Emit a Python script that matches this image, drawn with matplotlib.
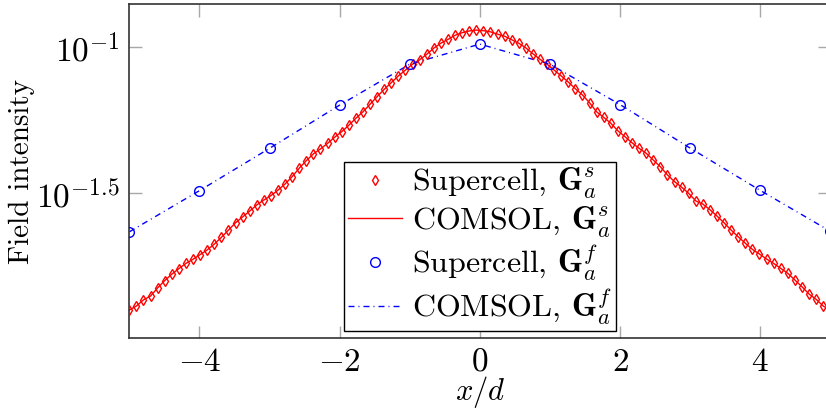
import numpy as np
import matplotlib
matplotlib.use("Agg")
import matplotlib.pyplot as plt
from matplotlib.lines import Line2D

plt.rcParams['font.family'] = 'serif'
plt.rcParams['font.serif'] = ['cmr10', 'DejaVu Serif']
plt.rcParams['mathtext.fontset'] = 'cm'
plt.rcParams['axes.unicode_minus'] = False
plt.rcParams['axes.formatter.use_mathtext'] = True

# ---- data ----
x_supercell_s = np.linspace(-5, 5, 100)
supercell_s_log10 = [
    -1.900, -1.886, -1.865, -1.852, -1.824, -1.799, -1.777, -1.758, -1.740, -1.726,
    -1.710, -1.694, -1.674, -1.651, -1.626, -1.601, -1.581, -1.561, -1.540, -1.523,
    -1.508, -1.489, -1.468, -1.443, -1.414, -1.388, -1.365, -1.348, -1.329, -1.308,
    -1.289, -1.267, -1.243, -1.221, -1.195, -1.169, -1.144, -1.121, -1.098, -1.078,
    -1.058, -1.043, -1.024, -1.003, -0.986, -0.973, -0.959, -0.950, -0.944, -0.941,
    -0.943, -0.947, -0.955, -0.962, -0.974, -0.986, -1.002, -1.022, -1.041, -1.058,
    -1.078, -1.098, -1.119, -1.142, -1.163, -1.190, -1.221, -1.240, -1.260, -1.286,
    -1.306, -1.327, -1.346, -1.363, -1.386, -1.409, -1.437, -1.460, -1.479, -1.500,
    -1.526, -1.537, -1.556, -1.578, -1.601, -1.626, -1.649, -1.671, -1.692, -1.708,
    -1.725, -1.740, -1.757, -1.774, -1.797, -1.820, -1.845, -1.863, -1.886, -1.900,
]
comsol_s_log10 = supercell_s_log10

x_f = [-5, -4, -3, -2, -1, 0, 1, 2, 3, 4, 5]
supercell_f_log10 = [-1.632, -1.491, -1.346, -1.198, -1.058, -0.989,
                     -1.058, -1.196, -1.345, -1.490, -1.630]
comsol_f_log10 = supercell_f_log10

x_ticks = [-4, -2, 0, 2, 4]
x_tick_labels = [r'$-4$', r'$-2$', r'$0$', r'$2$', r'$4$']
y_tick_exps = [-1.5, -1.0]
y_tick_labels = [r'$10^{-1.5}$', r'$10^{-1}$']

labels = [r'Supercell, $\mathbf{G}_a^s$', r'COMSOL, $\mathbf{G}_a^s$',
          r'Supercell, $\mathbf{G}_a^f$', r'COMSOL, $\mathbf{G}_a^f$']

# ---- figure ----
W, H = 826, 412
fig = plt.figure(figsize=(W / 100, H / 100), dpi=100)
ax = fig.add_axes([129.3 / W, (H - 338) / H, (830.3 - 129.3) / W, (338 - 4) / H])

red = '#ff0000'
blue = '#0000ff'

ys = 10 ** np.array(supercell_s_log10)
yc = 10 ** np.array(comsol_s_log10)
yf = 10 ** np.array(supercell_f_log10)
yfc = 10 ** np.array(comsol_f_log10)

ax.plot(x_supercell_s, yc, color=red, lw=1.0, zorder=2)
ax.plot(x_supercell_s, ys, ls='none', marker='d', ms=5.5, mfc='none', mec=red,
        mew=1.0, zorder=3)
ax.plot(x_f, yfc, color=blue, lw=1.0, dashes=(4.3, 2.9, 0.7, 2.9), zorder=2)
ax.plot(x_f, yf, ls='none', marker='o', ms=7, mfc='none', mec=blue, mew=1.0,
        zorder=3)

ax.set_yscale('log')
ax.set_xlim(-5, 5)
ax.set_ylim(10 ** -1.9955, 10 ** -0.8517)
ax.set_xticks(x_ticks)
ax.set_xticklabels(x_tick_labels)
ax.set_yticks([10 ** e for e in y_tick_exps])
ax.set_yticklabels(y_tick_labels)
ax.yaxis.set_minor_locator(matplotlib.ticker.NullLocator())

ax.tick_params(axis='both', which='major', direction='in', length=9, width=1.0,
               color='#a8a8a8', labelsize=24, top=True, right=True, pad=7)
for s in ax.spines.values():
    s.set_color('#333333')
    s.set_linewidth(1.2)

ax.set_xlabel(r'$x/d$', fontsize=22, labelpad=-2)
ax.set_ylabel('Field intensity', fontsize=21, labelpad=1)

handles = [
    Line2D([], [], ls='none', marker='d', ms=5.5, mfc='none', mec=red, mew=1.0),
    Line2D([], [], color=red, lw=1.0),
    Line2D([], [], ls='none', marker='o', ms=7, mfc='none', mec=blue, mew=1.0),
    Line2D([], [], color=blue, lw=1.0, dashes=(4.3, 2.9, 0.7, 2.9)),
]
leg = ax.legend(handles, labels, loc='lower center', bbox_to_anchor=(0.5, 0.0),
                fontsize=23, frameon=True, fancybox=False, framealpha=1,
                edgecolor='black', handlelength=1.7, handletextpad=0.3,
                labelspacing=0.1, borderpad=0.12, borderaxespad=0.22)
leg.get_frame().set_linewidth(1.0)

fig.savefig('out.png', dpi=100)
